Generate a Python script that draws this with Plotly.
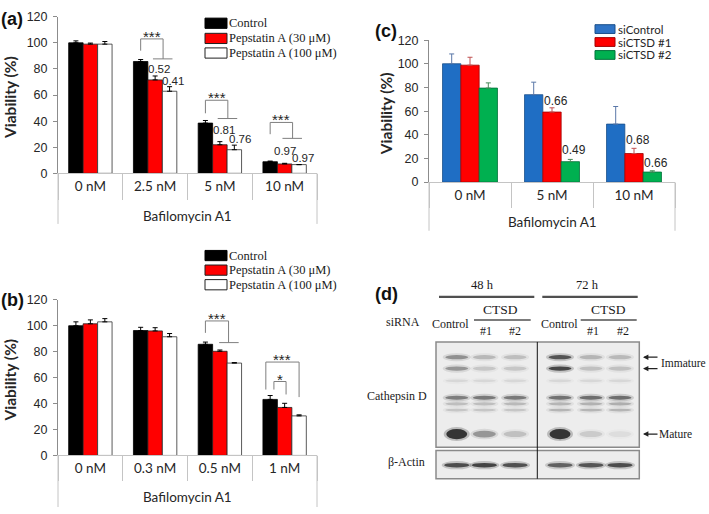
import plotly.graph_objects as go

W, H = 709, 514
def X(px): return px / W
def Y(py): return 1 - py / H

# ---------------- data ----------------
cats_a = ["0 nM", "2.5 nM", "5 nM", "10 nM"]
control_a = [100, 85.7, 38.5, 8.9]
control_a_err = [1.5, 1.5, 2.0, 0.5]
pep30_a = [99, 71.6, 21.9, 7.2]
pep30_a_err = [0.8, 3.0, 2.4, 0.5]
pep100_a = [99, 62.9, 18.1, 6.7]
pep100_a_err = [2.0, 3.5, 3.5, 0.0]
pval30_a = ["", "0.52", "0.81", "0.97"]
pval100_a = ["", "0.41", "0.76", "0.97"]

cats_b = ["0 nM", "0.3 nM", "0.5 nM", "1 nM"]
control_b = [100, 96.3, 85.7, 43.2]
control_b_err = [3.0, 2.5, 1.7, 3.0]
pep30_b = [101.5, 96, 80.3, 37]
pep30_b_err = [3.0, 2.5, 1.0, 3.2]
pep100_b = [103, 91.5, 71.2, 30.5]
pep100_b_err = [2.5, 2.5, 0.4, 0.8]

cats_c = ["0 nM", "5 nM", "10 nM"]
sictrl_c = [100.2, 74, 49.1]
sictrl_c_err = [8.3, 10.6, 14.9]
sictsd1_c = [99, 59.3, 24.2]
sictsd1_c_err = [6.7, 3.6, 4.4]
sictsd2_c = [79.6, 17.3, 8.5]
sictsd2_c_err = [4.4, 1.9, 1.1]
pval1_c = ["", "0.66", "0.68"]
pval2_c = ["", "0.49", "0.66"]

names_ab = ["Control", "Pepstatin A (30 μM)", "Pepstatin A (100 μM)"]
names_c = ["siControl", "siCTSD #1", "siCTSD #2"]

# western blot band darkness (0..1) per lane: 48h Control,#1,#2 | 72h Control,#1,#2
blot_rows = ["imm1", "imm2", "faint", "mid", "mid2", "mid3", "mature"]
band_int = {
    "imm1":   [0.45, 0.25, 0.22, 0.80, 0.26, 0.24],
    "imm2":   [0.42, 0.18, 0.18, 0.88, 0.20, 0.20],
    "faint":  [0.10, 0.10, 0.10, 0.10, 0.10, 0.10],
    "mid":    [0.55, 0.58, 0.58, 0.62, 0.64, 0.64],
    "mid2":   [0.22, 0.22, 0.24, 0.26, 0.28, 0.30],
    "mid3":   [0.18, 0.18, 0.18, 0.26, 0.26, 0.26],
    "mature": [1.00, 0.42, 0.20, 1.00, 0.15, 0.07],
}
actin_int = [0.85, 0.90, 0.82, 0.72, 0.80, 0.84]

# ---------------- styling / geometry ----------------
GRID = "#c4c4c4"
AXC = "#8c8c8c"
TXT = "#262626"
bargap = 0.33
w = (1 - bargap) / 3

panels = {
    "a": dict(x0=58, x1=317, yt=10, yb=171, xa="x", ya="y", tl=26, lab=0, out=223, title=215),
    "b": dict(x0=58, x1=317, yt=301, yb=461, xa="x2", ya="y2", tl=25, lab=0, out=514, title=503.5),
    "c": dict(x0=429, x1=675, yt=34.3, yb=180, xa="x3", ya="y3", tl=25, lab=1, out=230, title=221.5),
}

fig = go.Figure()

def add_series(cats, vals, errs, name, fill, edge, errcol, p):
    fig.add_trace(go.Bar(
        x=cats, y=vals, name=name, xaxis=p["xa"], yaxis=p["ya"], showlegend=False,
        marker=dict(color=fill, line=dict(color=edge, width=0.8)),
        error_y=dict(type="data", array=errs, arrayminus=[0] * len(errs), symmetric=False,
                     color=errcol, thickness=1, width=2.5),
    ))

pa, pb, pc = panels["a"], panels["b"], panels["c"]
add_series(cats_a, control_a, control_a_err, names_ab[0], "#000000", "#000000", "#000000", pa)
add_series(cats_a, pep30_a, pep30_a_err, names_ab[1], "#ff0000", "#202020", "#000000", pa)
add_series(cats_a, pep100_a, pep100_a_err, names_ab[2], "#ffffff", "#303030", "#000000", pa)
add_series(cats_b, control_b, control_b_err, names_ab[0], "#000000", "#000000", "#000000", pb)
add_series(cats_b, pep30_b, pep30_b_err, names_ab[1], "#ff0000", "#202020", "#000000", pb)
add_series(cats_b, pep100_b, pep100_b_err, names_ab[2], "#ffffff", "#303030", "#000000", pb)
add_series(cats_c, sictrl_c, sictrl_c_err, names_c[0], "#1f6ec4", "#1a4f8a", "#5a78a8", pc)
add_series(cats_c, sictsd1_c, sictsd1_c_err, names_c[1], "#ff0000", "#a00000", "#c05050", pc)
add_series(cats_c, sictsd2_c, sictsd2_c_err, names_c[2], "#00b050", "#00703a", "#4a8a5a", pc)

layout_axes = {}
for key, cats in (("a", cats_a), ("b", cats_b), ("c", cats_c)):
    p = panels[key]
    xn = "xaxis" + p["xa"][1:]
    yn = "yaxis" + p["ya"][1:]
    layout_axes[xn] = dict(
        domain=[X(p["x0"]), X(p["x1"])], anchor=p["ya"], type="category",
        range=[-0.5, len(cats) - 0.5], showline=True, linecolor=GRID, linewidth=1,
        ticks="outside", tickson="boundaries", ticklen=p["tl"], tickcolor=GRID, tickwidth=1,
        ticklabelstandoff=p["lab"], tickfont=dict(family="Lato", size=13.5, color=TXT),
        showgrid=False, zeroline=False)
    layout_axes[yn] = dict(
        domain=[Y(p["yb"]), Y(p["yt"])], anchor=p["xa"], range=[0, 120], dtick=20, tick0=0,
        showline=True, linecolor=AXC, linewidth=1, ticks="outside", ticklen=4, tickcolor=AXC,
        showgrid=False, zeroline=False, ticklabelstandoff=3,
        tickfont=dict(family="Liberation Sans", size=12.5, color=TXT))
    # outer group lines for "Bafilomycin A1"
    for xd in (0, 1):
        fig.add_shape(type="line", xref=p["xa"] + " domain", yref="paper", x0=xd, x1=xd,
                      y0=Y(p["yb"]), y1=Y(p["out"]), line=dict(color=GRID, width=1))
    fig.add_annotation(text="Bafilomycin A1", xref="paper", yref="paper",
                       x=X((p["x0"] + p["x1"]) / 2), y=Y(p["title"]), xanchor="center", yanchor="middle",
                       showarrow=False, font=dict(family="Lato", size=13.5, color=TXT))
    fig.add_annotation(text="<b>Viability (%)</b>", textangle=-90, xref="paper", yref="paper",
                       x=X(10 if key != "c" else 386), y=Y((p["yt"] + p["yb"]) / 2 + 3),
                       xanchor="center", yanchor="middle",
                       showarrow=False, font=dict(family="Lato", size=15.5, color=TXT))

fig.update_layout(**layout_axes)

# ---------------- p-value labels (placement: x offset in bar widths, y centre in %) ----------------
pv30_a_dx = [None, 0.24, 0.30, 0.0]
pv30_a_y = [None, 80.3, 33.5, 16.9]
pv100_a_dx = [None, 1.22, 1.37, 1.30]
pv100_a_y = [None, 70.8, 26.1, 11.9]
pv1_c_dx = [None, 0.2, 0.22]
pv1_c_y = [None, 68.6, 35.7]
pv2_c_dx = [None, 1.22, 1.22]
pv2_c_y = [None, 27.4, 16.2]

def pv_labels(texts, dxs, ys, p, size):
    for i, (t, dx, yv) in enumerate(zip(texts, dxs, ys)):
        if t:
            fig.add_annotation(text=t, x=i + dx * w, y=yv, xref=p["xa"], yref=p["ya"],
                               showarrow=False, yanchor="middle", borderpad=0,
                               font=dict(family="Liberation Sans", size=size, color=TXT))

pv_labels(pval30_a, pv30_a_dx, pv30_a_y, pa, 11.5)
pv_labels(pval100_a, pv100_a_dx, pv100_a_y, pa, 11.5)
pv_labels(pval1_c, pv1_c_dx, pv1_c_y, pc, 12)
pv_labels(pval2_c, pv2_c_dx, pv2_c_y, pc, 12)

# ---------------- significance brackets ----------------
BRK = "#7f7f7f"
def seg(p, x0, y0, x1, y1):
    fig.add_shape(type="line", xref=p["xa"], yref=p["ya"], x0=x0, y0=y0, x1=x1, y1=y1,
                  line=dict(color=BRK, width=1))

def bracket(p, xl, xr, top, yl, yr, stars, tee=None):
    seg(p, xl, yl, xl, top)
    seg(p, xl, top, xr, top)
    seg(p, xr, top, xr, yr)
    if tee:
        seg(p, tee[0], yr, tee[1], yr)
    fig.add_annotation(text=stars, x=(xl + xr) / 2, y=top, xref=p["xa"], yref=p["ya"],
                       showarrow=False, yanchor="bottom", yshift=-7, borderpad=0,
                       font=dict(family="Liberation Sans", size=15, color=TXT))

# panel (a): control vs both pepstatin groups
for i, (top, yl, yr) in zip([1, 2, 3], [(103, 94, 87.7), (56, 46, 42), (39, 30, 26.8)]):
    bracket(pa, i - w, i + 0.55 * w, top, yl, yr, "***", tee=(i - 0.15 * w, i + 1.2 * w))
# panel (b)
bracket(pb, 2 - w, 2 + 0.6 * w, 103.7, 94.5, 87, "***", tee=(2 - 0.05 * w, 2 + 1.3 * w))
bracket(pb, 3 - 1.3 * w, 3 + w, 72, 50.8, 45, "***")
bracket(pb, 3 - 0.74 * w, 3 + 0.1 * w, 57, 50.8, 47, "*")

# ---------------- legends ----------------
def legend(sw0, sw1, tx, ys, hgt, names, fills, edges, font):
    for yc, n, f, e in zip(ys, names, fills, edges):
        fig.add_shape(type="rect", xref="paper", yref="paper", x0=X(sw0), x1=X(sw1),
                      y0=Y(yc + hgt / 2), y1=Y(yc - hgt / 2), fillcolor=f, line=dict(color=e, width=1))
        fig.add_annotation(text=n, xref="paper", yref="paper", x=X(tx), y=Y(yc), xanchor="left",
                           yanchor="middle", showarrow=False, borderpad=0, font=font)

serif12 = dict(family="Liberation Serif", size=12.5, color="#1a1a1a")
legend(205, 227, 228, [16.7, 32.3, 47.3], 10.5, names_ab, ["#000000", "#ff0000", "#ffffff"],
       ["#000000", "#202020", "#202020"], serif12)
legend(205, 227, 228, [255.5, 270.5, 285.5], 10.5, names_ab, ["#000000", "#ff0000", "#ffffff"],
       ["#000000", "#202020", "#202020"], serif12)
legend(595, 615, 617, [22.7, 36, 49.3], 9, names_c, ["#2f74c6", "#ff0000", "#00b050"],
       ["#1a4f8a", "#a00000", "#00703a"], dict(family="Lato", size=11.5, color=TXT))

# ---------------- panel letters ----------------
for lab, xl, yc in (("(a)", 0, 12), ("(b)", 0, 301), ("(c)", 374, 25), ("(d)", 374, 295)):
    fig.add_annotation(text="<b>" + lab + "</b>", xref="paper", yref="paper", x=X(xl), y=Y(yc),
                       xanchor="left", yanchor="middle", showarrow=False, borderpad=0,
                       font=dict(family="Liberation Sans", size=18, color="#111111"))

# ---------------- panel (d): western blot ----------------
bx0, bx1 = 436, 639.3
main_t, main_b = 344.3, 452.7
act_t, act_b = 456, 485
lane_frac = [0.102, 0.238, 0.389, 0.61, 0.762, 0.905]
row_frac = {"imm1": 0.145, "imm2": 0.253, "faint": 0.369, "mid": 0.529,
            "mid2": 0.587, "mid3": 0.646, "mature": 0.874}
row_hh = {"imm1": 2.2, "imm2": 2.2, "faint": 1.4, "mid": 2.0, "mid2": 1.6, "mid3": 1.4, "mature": 3.0}

for (t, b) in ((main_t, main_b), (act_t, act_b)):
    fig.add_shape(type="rect", xref="paper", yref="paper", x0=X(bx0), x1=X(bx1), y0=Y(b), y1=Y(t),
                  fillcolor="#ededed", line=dict(color="#8a8a8a", width=1.5), layer="below")

def band(cx, cy, hw, hh, a):
    fig.add_shape(type="circle", xref="paper", yref="paper", x0=X(cx - hw - 2.5), x1=X(cx + hw + 2.5),
                  y0=Y(cy + hh + 2), y1=Y(cy - hh - 2), fillcolor="rgba(40,40,40,%.3f)" % (0.25 * a),
                  line=dict(width=0))
    fig.add_shape(type="circle", xref="paper", yref="paper", x0=X(cx - hw), x1=X(cx + hw),
                  y0=Y(cy + hh), y1=Y(cy - hh), fillcolor="rgba(20,20,20,%.3f)" % (0.8 * a),
                  line=dict(width=0))

bw = bx1 - bx0
for r in blot_rows:
    cy = main_t + row_frac[r] * (main_b - main_t)
    for lf, a in zip(lane_frac, band_int[r]):
        cx = bx0 + lf * bw
        hh = row_hh[r] + (2.2 * a * a if r == "mature" else 0)
        hw = 10.5 if (r == "mature" and a > 0.9) else 11.5
        band(cx, cy, hw, hh, min(1.0, a * (1.2 if r == "mature" and a > 0.9 else 1.0)))
for lf, a in zip(lane_frac, actin_int):
    band(bx0 + lf * bw, (act_t + act_b) / 2 + 0.5, 12.5, 2.3, a)

fig.add_shape(type="line", xref="paper", yref="paper", x0=X(537.3), x1=X(537.3), y0=Y(act_b),
              y1=Y(main_t), line=dict(color="#111111", width=1))

def txt(s, x, y, size=12, anchor="center"):
    fig.add_annotation(text=s, xref="paper", yref="paper", x=X(x), y=Y(y), xanchor=anchor,
                       yanchor="middle", showarrow=False, borderpad=0,
                       font=dict(family="Liberation Serif", size=size, color="#1a1a1a"))

def hline(x0, x1, y, wdt):
    fig.add_shape(type="line", xref="paper", yref="paper", x0=X(x0), x1=X(x1), y0=Y(y), y1=Y(y),
                  line=dict(color="#505050", width=wdt))

txt("48 h", 482.3, 285.7, 12.5)
txt("72 h", 587.7, 285.7, 12.5)
hline(439, 534.3, 298, 2.2)
hline(542.3, 637.7, 298, 2.2)
txt("CTSD", 500, 311, 13.5)
txt("CTSD", 608.3, 311, 13.5)
hline(474, 530.7, 321.7, 1.5)
hline(580.7, 636.7, 321.7, 1.5)
txt("siRNA", 403.3, 324.3, 12)
for lab, xc in zip(["Control", "#1", "#2", "Control", "#1", "#2"], [450.7, 485.7, 515, 559, 593.3, 622.7]):
    txt(lab, xc, 326 if lab == "Control" else 333.3, 12)
txt("Cathepsin D", 397.3, 400, 12)
txt("β-Actin", 406.7, 467.7, 12)
for ya in (360, 371.7, 439):
    fig.add_annotation(text="", xref="paper", yref="paper", x=X(643), y=Y(ya), ax=16, ay=0,
                       showarrow=True, arrowhead=2, arrowsize=0.9, arrowwidth=1.2, arrowcolor="#222222")
txt("Immature", 660, 365.7, 11.5, "left")
txt("Mature", 658, 439, 11.5, "left")

fig.update_layout(width=W, height=H, margin=dict(l=0, r=0, t=0, b=0),
                  paper_bgcolor="white", plot_bgcolor="white", showlegend=False,
                  barmode="group", bargap=bargap, bargroupgap=0)

fig.write_html("out.html", config={"displayModeBar": False, "staticPlot": True},
               post_script="document.body.style.margin='0';document.body.style.overflow='hidden';")
